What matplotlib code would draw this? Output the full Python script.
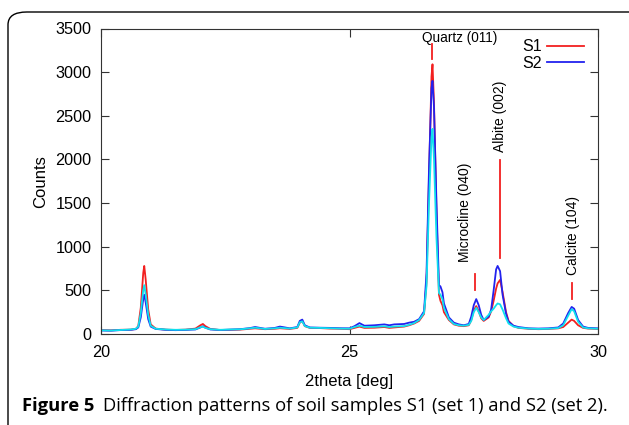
import matplotlib
matplotlib.use('Agg')
import matplotlib.pyplot as plt
from matplotlib.patches import FancyBboxPatch
import numpy as np

# 2theta grid (denser around peaks)
two_theta = [20.0, 20.2, 20.4, 20.6, 20.7, 20.75, 20.8, 20.85, 20.87, 20.9, 20.95, 21.0,
             21.1, 21.3, 21.5, 21.7, 21.9, 22.0, 22.05, 22.1, 22.2, 22.4, 22.6, 22.8,
             23.0, 23.1, 23.3, 23.5, 23.6, 23.8, 23.95, 24.0, 24.05, 24.1, 24.2, 24.4,
             24.6, 24.8, 25.0, 25.1, 25.2, 25.3, 25.5, 25.7, 25.8, 25.9, 26.1, 26.2,
             26.3, 26.4, 26.5, 26.55, 26.6, 26.65, 26.67, 26.7, 26.75, 26.8, 26.83, 26.87,
             26.9, 27.0, 27.1, 27.2, 27.3, 27.4, 27.45, 27.5, 27.55, 27.6, 27.65, 27.7,
             27.8, 27.85, 27.9, 27.95, 27.98, 28.03, 28.08, 28.15, 28.2, 28.3, 28.4, 28.6,
             28.8, 29.0, 29.2, 29.3, 29.4, 29.47, 29.52, 29.6, 29.7, 29.8, 30.0]

s1 = [45, 42, 48, 50, 58, 90, 300, 700, 780, 620, 280, 110,
      62, 50, 46, 50, 62, 100, 115, 90, 58, 45, 48, 50,
      60, 65, 55, 60, 66, 58, 70, 130, 150, 90, 70, 68,
      62, 60, 55, 70, 85, 70, 72, 80, 70, 75, 85, 100,
      120, 150, 230, 600, 1800, 2950, 3090, 2650, 1400, 450, 380, 330,
      250, 160, 110, 95, 90, 100, 160, 270, 320, 260, 180, 150,
      190, 260, 380, 520, 580, 620, 480, 250, 150, 90, 70, 60,
      55, 58, 65, 80, 130, 165, 150, 100, 70, 62, 58]

s2 = [40, 38, 45, 48, 55, 75, 190, 400, 450, 360, 170, 85,
      58, 48, 44, 47, 52, 75, 88, 72, 52, 46, 50, 55,
      68, 80, 60, 70, 85, 65, 80, 150, 165, 100, 75, 72,
      70, 66, 65, 90, 125, 95, 100, 110, 100, 110, 115, 130,
      140, 170, 260, 700, 1900, 2820, 2900, 2600, 1500, 560, 545, 480,
      350, 190, 130, 110, 100, 115, 200, 330, 400, 330, 220, 160,
      200, 280, 500, 740, 780, 720, 450, 230, 140, 95, 80, 65,
      62, 65, 75, 120, 240, 310, 290, 160, 85, 70, 65]

s3 = [42, 40, 46, 52, 60, 85, 240, 500, 560, 450, 220, 95,
      60, 52, 48, 50, 55, 78, 85, 70, 55, 48, 52, 54,
      65, 72, 58, 65, 72, 62, 75, 135, 145, 92, 72, 70,
      66, 62, 60, 80, 95, 80, 82, 88, 80, 85, 90, 105,
      125, 160, 240, 550, 1500, 2250, 2350, 2000, 1100, 470, 450, 400,
      300, 170, 115, 100, 95, 105, 150, 250, 300, 250, 190, 160,
      220, 260, 290, 330, 350, 340, 280, 180, 120, 85, 72, 62,
      58, 60, 68, 100, 210, 285, 260, 140, 75, 65, 60]

labels = ['S1', 'S2']
peak_names = ['Quartz (011)', 'Microcline (040)', 'Albite (002)', 'Calcite (104)']
peak_pos = [26.67, 27.52, 28.03, 29.48]
marker_lo = [3150, 505, 870, 400]
marker_hi = [3320, 690, 1990, 585]

plt.rcParams['font.family'] = ['Liberation Sans', 'DejaVu Sans']

fig = plt.figure(figsize=(6.29, 4.25), dpi=100)
ax = fig.add_axes([101/629, 1 - 334/425, 497/629, 305.5/425])

ax.plot(two_theta, s1, color='#f22020', lw=1.3, label=labels[0])
ax.plot(two_theta, s2, color='#2222ee', lw=1.3, label=labels[1])
ax.plot(two_theta, s3, color='#10e0ee', lw=1.3)

# peak markers
for i in range(len(peak_pos)):
    ax.plot([peak_pos[i], peak_pos[i]], [marker_lo[i], marker_hi[i]], color='#f22020', lw=1.3)

ax.text(26.46, 3390, peak_names[0], ha='left', va='center', fontsize=9.8)
ax.text(27.32, 830, peak_names[1], ha='center', va='bottom', rotation=90, fontsize=10)
ax.text(28.03, 2090, peak_names[2], ha='center', va='bottom', rotation=90, fontsize=10)
ax.text(29.50, 680, peak_names[3], ha='center', va='bottom', rotation=90, fontsize=10)

ax.set_xlim(20, 30)
ax.set_ylim(0, 3500)
ax.set_xticks([20, 25, 30])
ax.set_yticks(np.arange(0, 3501, 500))
ax.tick_params(direction='in', top=True, right=True, length=6, labelsize=11.7, pad=7, color='#333333')
ax.tick_params(axis='x', pad=8)
for sp in ax.spines.values():
    sp.set_color('#333333')
ax.set_xlabel('2theta [deg]', fontsize=12, labelpad=10)
ax.set_ylabel('Counts', fontsize=12, labelpad=5)

ax.legend(loc='upper right', bbox_to_anchor=(0.972, 0.965), frameon=False, markerfirst=False,
          fontsize=11.5, borderpad=0, borderaxespad=0, handlelength=2.3, handletextpad=0.35,
          labelspacing=0.1)

# rounded frame round the figure
box = FancyBboxPatch((8/629, -0.1), 1.2, 1 - 12/425 + 0.1, boxstyle='round,pad=0,rounding_size=0.03',
                     transform=fig.transFigure, fill=False, ec='black', lw=1.0)
fig.patches.append(box)

t1 = fig.text(22/629, 1 - 406/425, 'Figure 5', fontsize=13.2, fontweight='bold', family='Open Sans',
              va='center', ha='left')
fig.canvas.draw()
bb = t1.get_window_extent()
fig.text((bb.x1 + 9) / fig.bbox.width, 1 - 406/425, 'Diffraction patterns of soil samples S1 (set 1) and S2 (set 2).',
         fontsize=13.2, family='Open Sans', va='center', ha='left')

fig.savefig('out.png', dpi=100)
